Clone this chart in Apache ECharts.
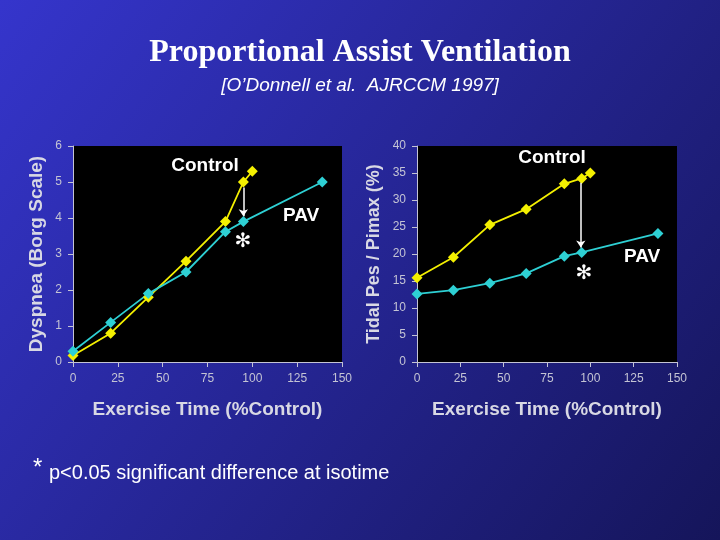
<!DOCTYPE html>
<html>
<head>
<meta charset="utf-8">
<script src="https://cdn.jsdelivr.net/npm/echarts@6/dist/echarts.min.js"></script>
<style>
  html, body { margin: 0; padding: 0; }
  #main { width: 720px; height: 540px; }
</style>
</head>
<body>
<div id="main"></div>
<script>
// data
const controlTime = [0, 21, 42, 63, 85, 95, 100];
const pavTime = [0, 21, 42, 63, 85, 95, 139];
const dyspneaControl = [0.18, 0.8, 1.8, 2.8, 3.9, 5.0, 5.3];
const dyspneaPav = [0.3, 1.1, 1.9, 2.5, 3.62, 3.9, 5.0];
const pesControl = [15.6, 19.4, 25.4, 28.3, 33.0, 34.0, 35.0];
const pesPav = [12.6, 13.3, 14.6, 16.4, 19.6, 20.3, 23.8];

function pairs(xs, ys) {
    return xs.map((x, i) => [x, ys[i]]);
}

let myChart = echarts.init(document.querySelector('#main'));

const tickLabel = { color: '#c4c4d4', fontSize: 12, fontFamily: 'Liberation Sans, Arial', margin: 11 };
const axisLine = { show: true, lineStyle: { color: '#c4c4d4', width: 1 } };
const nameStyle = { color: '#d8d8e4', fontSize: 19, fontWeight: 'bold', fontFamily: 'Liberation Sans, Arial' };

function xAxis(grid) {
    return {
        type: 'value', gridIndex: grid, min: 0, max: 150, interval: 25,
        axisLine: axisLine, axisTick: { show: true, length: 5, lineStyle: { color: '#c4c4d4' } },
        axisLabel: tickLabel, splitLine: { show: false },
        name: 'Exercise Time (%Control)', nameLocation: 'middle', nameGap: 38,
        nameTextStyle: nameStyle
    };
}

function yAxis(grid, max, interval, name, gap, size) {
    return {
        type: 'value', gridIndex: grid, min: 0, max: max, interval: interval,
        axisLine: axisLine, axisTick: { show: true, length: 5, lineStyle: { color: '#c4c4d4' } },
        axisLabel: tickLabel, splitLine: { show: false },
        name: name, nameLocation: 'middle', nameGap: gap,
        nameTextStyle: Object.assign({}, nameStyle, { fontSize: size })
    };
}

function line(name, grid, data, color) {
    return {
        name: name, type: 'line', xAxisIndex: grid, yAxisIndex: grid,
        data: data, symbol: 'diamond', symbolSize: 11,
        lineStyle: { color: color, width: 1.8 },
        itemStyle: { color: color },
        animation: false
    };
}

function arrow(grid, x, y1, y2) {
    return {
        type: 'line', xAxisIndex: grid, yAxisIndex: grid, data: [],
        markLine: {
            silent: true, symbol: ['none', 'arrow'], symbolSize: 7,
            lineStyle: { color: '#ffffff', width: 1.5, type: 'solid' },
            label: { show: false },
            data: [[{ coord: [x, y1] }, { coord: [x, y2] }]]
        },
        animation: false
    };
}

function text(x, y, str, size, family) {
    return {
        type: 'text', x: x, y: y,
        style: {
            text: str, fill: '#ffffff', align: 'center', verticalAlign: 'middle',
            font: 'bold ' + size + 'px ' + (family || '"Liberation Sans", Arial')
        }
    };
}

let option = {
    backgroundColor: {
        type: 'linear', x: 0, y: 0, x2: 1, y2: 1,
        colorStops: [{ offset: 0, color: '#3535cc' }, { offset: 1, color: '#15155a' }]
    },
    title: [
        {
            text: 'Proportional Assist Ventilation', left: 'center', top: 32,
            textStyle: { color: '#ffffff', fontSize: 32, fontWeight: 'bold', fontFamily: 'Liberation Serif, Times New Roman' }
        },
        {
            text: '[O’Donnell et al.  AJRCCM 1997]', left: 'center', top: 71,
            textStyle: { color: '#ffffff', fontSize: 19, fontStyle: 'italic', fontWeight: 'normal', fontFamily: 'Liberation Sans, Arial' }
        }
    ],
    grid: [
        { left: 73, right: 378, top: 146, bottom: 178, show: true, backgroundColor: '#000000', borderWidth: 0 },
        { left: 417, right: 43, top: 146, bottom: 178, show: true, backgroundColor: '#000000', borderWidth: 0 }
    ],
    xAxis: [xAxis(0), xAxis(1)],
    yAxis: [
        yAxis(0, 6, 1, 'Dyspnea (Borg Scale)', 27, 19),
        yAxis(1, 40, 5, 'Tidal Pes / Pimax (%)', 34, 18)
    ],
    series: [
        line('Control', 0, pairs(controlTime, dyspneaControl), '#f4f000'),
        line('PAV', 0, pairs(pavTime, dyspneaPav), '#2ed0d4'),
        line('Control', 1, pairs(controlTime, pesControl), '#f4f000'),
        line('PAV', 1, pairs(pavTime, pesPav), '#2ed0d4'),
        arrow(0, 95, 4.85, 4.05),
        arrow(1, 94.5, 33.2, 21.2)
    ],
    graphic: [
        text(205, 166, 'Control', 19),
        text(301, 216, 'PAV', 19),
        text(243, 242, '✻', 20, '"DejaVu Sans"'),
        text(552, 158, 'Control', 19),
        text(642, 257, 'PAV', 19),
        text(584, 274, '✻', 20, '"DejaVu Sans"'),
        {
            type: 'text', left: 33, top: 456,
            style: { text: '*', fill: '#ffffff', font: '24px "Liberation Sans", Arial' }
        },
        {
            type: 'text', left: 49, top: 463,
            style: { text: 'p<0.05 significant difference at isotime', fill: '#ffffff', font: '20px "Liberation Sans", Arial' }
        }
    ]
};
myChart.setOption(option);
</script>
</body>
</html>
